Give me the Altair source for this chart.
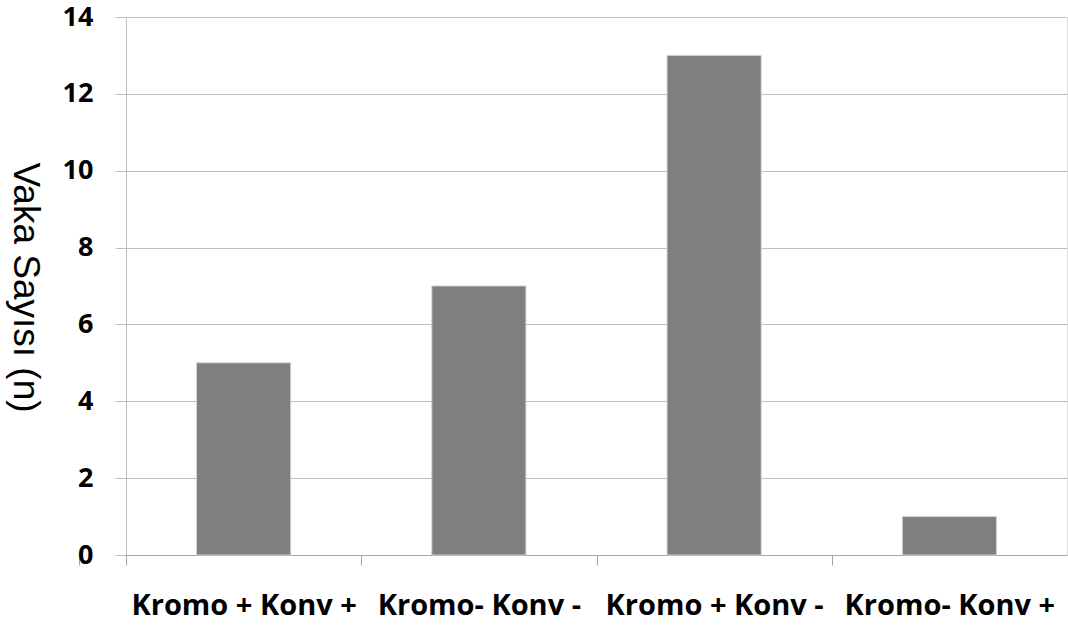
import altair as alt
import pandas as pd

categories = ["Kromo + Konv +", "Kromo- Konv -", "Kromo + Konv -", "Kromo- Konv +"]
values = [5, 7, 13, 1]

df = pd.DataFrame({"cat": categories, "val": values})

half_step = 941 / 4 / 2

chart = alt.Chart(df).mark_bar(color="#7f7f7f", stroke="#d0d0d0", strokeWidth=1).encode(
    x=alt.X("cat:N", sort=categories, title=None,
            scale=alt.Scale(paddingInner=0.6, paddingOuter=0.3),
            axis=alt.Axis(labelAngle=0, labelFont="Open Sans", labelFontWeight="bold",
                          labelFontSize=29, labelColor="#000000", labelPadding=26,
                          labelLimit=0, labelOverlap=False,
                          tickOffset=-half_step, labelOffset=half_step, tickExtra=True,
                          tickSize=10, tickColor="#a6a6a6",
                          domainColor="#a6a6a6", grid=False)),
    y=alt.Y("val:Q", title="Vaka Sayısı (n)",
            scale=alt.Scale(domain=[0, 14], nice=False),
            axis=alt.Axis(values=[0, 2, 4, 6, 8, 10, 12, 14], labelFont="Open Sans",
                          labelFontWeight="bold", labelFontSize=27, labelColor="#000000",
                          labelPadding=22, tickSize=11, tickColor="#bfbfbf",
                          domainColor="#bfbfbf", gridColor="#bfbfbf",
                          titleFont="Liberation Sans", titleFontWeight="normal",
                          titleFontSize=37, titleColor="#000000",
                          titleAngle=90, titleX=-102, titleY=270, titleAlign="center",
                          titleBaseline="middle")),
).properties(
    width=941, height=538,
    autosize=alt.AutoSizeParams(type="none"),
    padding={"left": 126, "top": 17, "right": 1, "bottom": 71},
).configure_view(stroke=None).configure(background="white")

chart.save("out.html", embed_options={"renderer": "svg", "actions": False})
